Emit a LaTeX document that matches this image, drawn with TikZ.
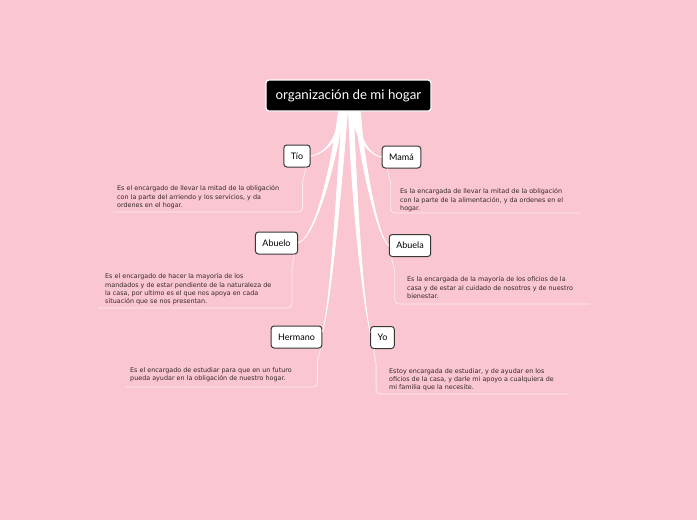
\documentclass[tikz,border=0pt]{standalone}
\usepackage{fontspec}
\setmainfont{DejaVu Sans}
\newfontfamily\labelfont{Lato}
\usetikzlibrary{positioning,calc}
\definecolor{bgpink}{RGB}{249,198,209}
\definecolor{boxedge}{RGB}{55,55,55}
\definecolor{notegray}{RGB}{55,38,45}
\tikzset{
  rootnode/.style={rectangle,rounded corners=3pt,draw=white,line width=1.2pt,fill=black,text=white,
    font=\labelfont\fontsize{13.3}{15}\selectfont,minimum width=165pt,minimum height=31pt,inner sep=0pt},
  membernode/.style={rectangle,rounded corners=3pt,draw=boxedge,line width=1pt,fill=white,
    font=\labelfont\fontsize{9}{10}\selectfont,minimum height=22pt,inner xsep=7pt,inner ysep=0pt},
  notetext/.style={anchor=north west,inner sep=0pt,align=left,text=notegray,font=\fontsize{6.4}{8.2}\selectfont},
  noteline/.style={draw=white!65!bgpink,line width=0.8pt,rounded corners=4pt},
  branch/.style={draw=white,fill=white,line width=0.7pt}
}
\newcommand{\branch}[4]{%
  \filldraw[branch] ($(root.south)+(#1-2.5,0)$) .. controls ($(#2)+(-2.5,0)$) and (#3) .. (#4)
    .. controls (#3) and ($(#2)+(2.5,0)$) .. ($(root.south)+(#1+2.5,0)$) -- cycle;}

\begin{document}
\begin{tikzpicture}[x=1pt,y=-1pt]
  \fill[bgpink] (0,0) rectangle (697,520);

  \node[rootnode] (root) at (348.5,95.5) {organización de mi hogar};

  \node[membernode] (tio) at (297,156) {Tío};
  \node[membernode] (mama) at (401.5,157) {Mamá};
  \node[membernode] (abuelo) at (276.5,243) {Abuelo};
  \node[membernode] (abuela) at (410,245.5) {Abuela};
  \node[membernode] (hermano) at (296.5,337) {Hermano};
  \node[membernode] (yo) at (382.5,337.5) {Yo};

  % branches from the centre
  \branch{-5.5}{341,135}{326,154}{tio.east}
  \branch{5.5}{356,135}{368,155}{mama.west}
  \branch{-7.5}{336,150}{318,236}{abuelo.east}
  \branch{9.5}{360,150}{377,238}{abuela.west}
  \branch{-3.5}{338,200}{331,300}{$(hermano.east)+(0,-5)$}
  \branch{2.5}{355,220}{364,305}{$(yo.west)+(0,-5)$}

  % notes
  \node[notetext] (tionote) at (117,185.5) {Es el encargado de llevar la mitad de la obligación\\con la parte del arriendo y los servicios, y da\\ordenes en el hogar.};
  \node[notetext] (mamanote) at (400,188.5) {Es la encargada de llevar la mitad de la obligación\\con la parte de la alimentación, y da ordenes en el\\hogar.};
  \node[notetext] (abuelonote) at (105,273.5) {Es el encargado de hacer la mayoría de los\\mandados y de estar pendiente de la naturaleza de\\la casa, por ultimo es el que nos apoya en cada\\situación que se nos presentan.};
  \node[notetext] (abuelanote) at (407,276.5) {Es la encargada de la mayoría de los oficios de la\\casa y de estar al cuidado de nosotros y de nuestro\\bienestar.};
  \node[notetext] (hermanonote) at (130,367.5) {Es el encargado de estudiar para que en un futuro\\pueda ayudar en la obligación de nuestro hogar.};
  \node[notetext] (yonote) at (389,368.5) {Estoy encargada de estudiar, y de ayudar en los\\oficios de la casa, y darle mi apoyo a cualquiera de\\mi familia que la necesite.};

  \coordinate (tioend) at (113,212);
  \coordinate (mamaend) at (580,213);
  \coordinate (abueloend) at (98,308);
  \coordinate (abuelaend) at (590,304);
  \coordinate (hermanoend) at (125,387);
  \coordinate (yoend) at (568,394);

  \draw[noteline] ($(tio.south east)+(-5,0)$) -- ++(0,5) -- ++(-3,6) |- (tioend);
  \draw[noteline] ($(mama.south west)+(6,0)$) -- ++(0,6) -- ++(3,6) |- (mamaend);
  \draw[noteline] ($(abuelo.south east)+(-4,0)$) -- ++(0,4) -- ++(-2,6) |- (abueloend);
  \draw[noteline] ($(abuela.south west)+(3,0)$) -- ++(0,4) -- ++(3,8) |- (abuelaend);
  \draw[noteline] ($(hermano.south east)+(-2,0)$) -- ++(0,4) -- ++(-3,6) |- (hermanoend);
  \draw[noteline] ($(yo.south west)+(4,0)$) -- ++(0,5) -- ++(2,8) |- (yoend);
\end{tikzpicture}
\end{document}
